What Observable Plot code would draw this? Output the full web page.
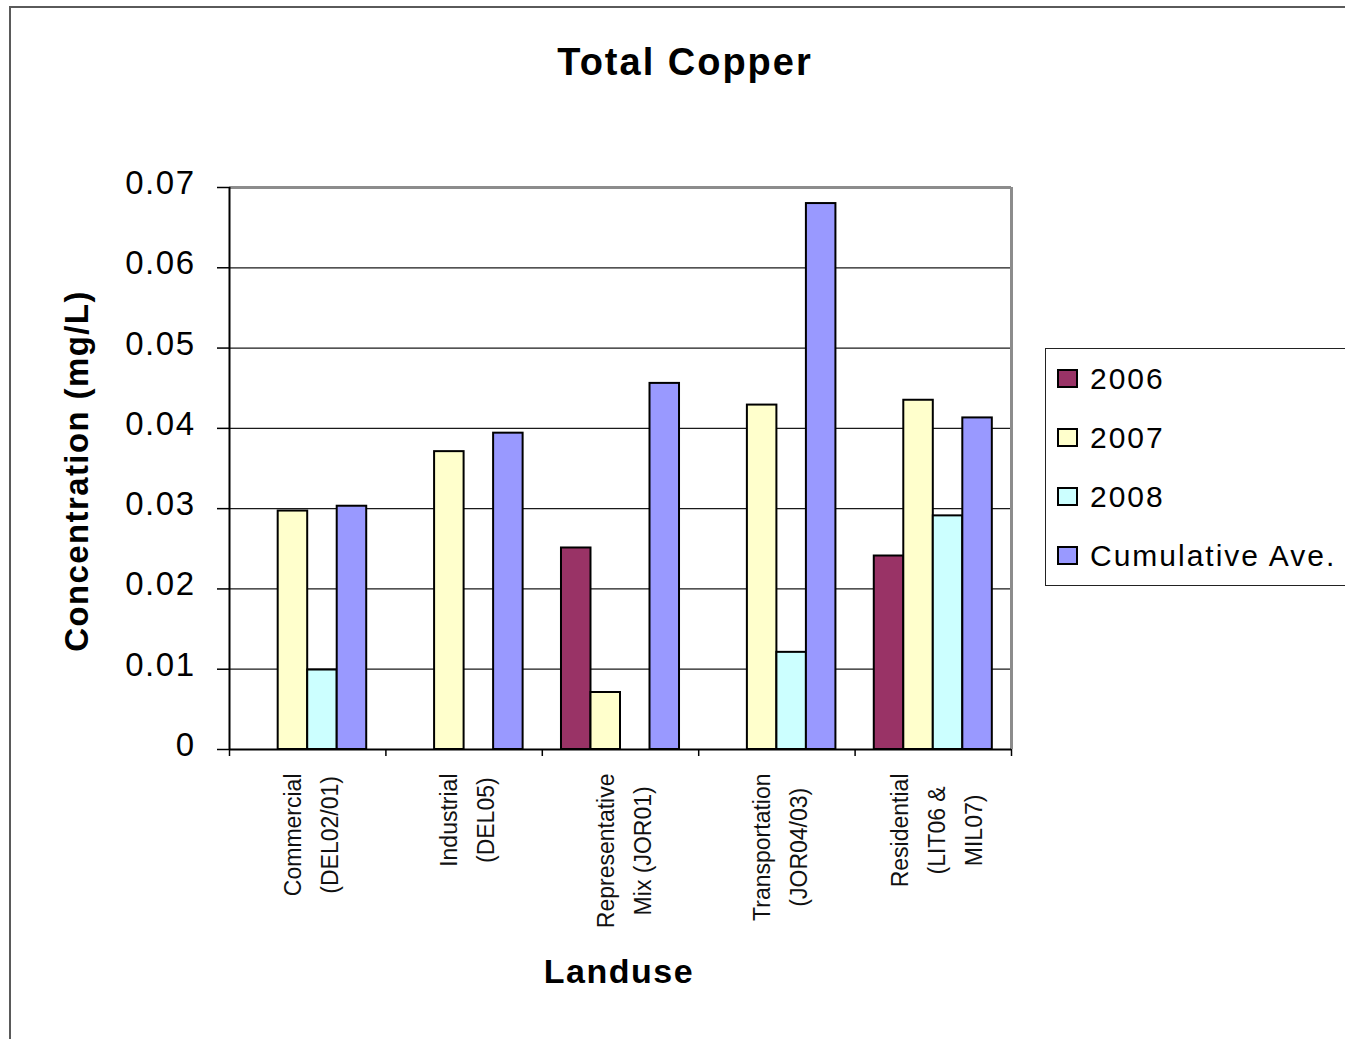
<!DOCTYPE html>
<html>
<head>
<meta charset="utf-8">
<script src="https://cdn.jsdelivr.net/npm/d3@7"></script>
<script src="https://cdn.jsdelivr.net/npm/@observablehq/plot@0.6"></script>
<style>
  html, body { margin: 0; padding: 0; background: #fff; overflow: hidden; width: 1345px; height: 1039px; }
  body { position: relative; font-family: "Liberation Sans", Arial, sans-serif; color: #000; }
  #frame { position: absolute; left: 9px; top: 6px; width: 1400px; height: 1100px; border: 2px solid #5a5a5a; box-sizing: border-box; }
  #chart { position: absolute; left: 0; top: 0; }
  #chart svg { overflow: visible; }
  g[aria-label="y-axis tick label"] text { letter-spacing: 1.5px; }
  .title { position: absolute; left: 685px; top: 43px; transform: translateX(-50%); font-weight: bold; font-size: 38px; line-height: 38px; letter-spacing: 2px; white-space: nowrap; }
  .xlabel { position: absolute; left: 619px; top: 954px; transform: translateX(-50%); font-weight: bold; font-size: 34px; line-height: 34px; letter-spacing: 1.5px; white-space: nowrap; }
  .ylabel { position: absolute; left: 76px; top: 471px; transform: translate(-50%, -50%) rotate(-90deg); font-weight: bold; font-size: 33px; line-height: 33px; letter-spacing: 1.4px; white-space: nowrap; }
  .legend { position: absolute; left: 1045px; top: 348px; width: 330px; height: 238px; border: 1.5px solid #222; box-sizing: border-box; background: #fff; }
  .legend .item { height: 59px; display: flex; align-items: center; padding-left: 11px; }
  .legend .swatch { width: 17px; height: 15px; border: 2px solid #000; margin-right: 12px; }
  .legend .name { font-size: 30px; letter-spacing: 2px; white-space: nowrap; }
</style>
</head>
<body>
<div id="frame"></div>
<div id="chart"></div>
<div class="title">Total Copper</div>
<div class="ylabel">Concentration (mg/L)</div>
<div class="xlabel">Landuse</div>
<div class="legend" id="legend"></div>
<script>
// Land-use sampling sites (line breaks follow the axis labels)
const categories = [
  "Commercial\n(DEL02/01)",
  "Industrial\n(DEL05)",
  "Representative\nMix (JOR01)",
  "Transportation\n(JOR04/03)",
  "Residential\n(LIT06 &\nMIL07)"
];
const series = ["2006", "2007", "2008", "Cumulative Ave."];
const seriesColors = ["#993366", "#FFFFCC", "#CCFFFF", "#9999FF"];

// Total copper concentration, mg/L (null = no sample that year)
const values2006 = [null, null, 0.0251, null, 0.0241];
const values2007 = [0.0297, 0.0371, 0.0071, 0.0429, 0.0435];
const values2008 = [0.0099, null, null, 0.0121, 0.0291];
const valuesCumulative = [0.0303, 0.0394, 0.0456, 0.0680, 0.0413];

const yTicks = [0, 0.01, 0.02, 0.03, 0.04, 0.05, 0.06, 0.07];

const seriesValues = [values2006, values2007, values2008, valuesCumulative];
const rows = [];
categories.forEach((category, i) => {
  series.forEach((s, j) => {
    const value = seriesValues[j][i];
    if (value != null) rows.push({i, category, series: s, value});
  });
});

// Position of each series inside a land-use group (group = one unit on x)
const inner = d3.scaleBand().domain(series).range([0, 1]).paddingInner(0).paddingOuter(0.65);

// Rotated category labels: centre every line under the longest one
const labelFont = 23;
const ctx = document.createElement("canvas").getContext("2d");
ctx.font = `${labelFont}px "Liberation Sans", Arial, sans-serif`;
const labelMarks = categories.map((category, i) => {
  const longest = d3.max(category.split("\n"), (line) => ctx.measureText(line).width);
  return Plot.text([category], {
    x: () => i + 0.5,
    y: () => 0,
    text: (d) => d,
    rotate: -90,
    textAnchor: "middle",
    lineHeight: 1.6,
    fontSize: labelFont,
    fill: "#111",
    dy: 24 + longest / 2
  });
});

const yMax = yTicks[yTicks.length - 1];

const chart = Plot.plot({
  width: 1040,
  height: 1000,
  marginLeft: 229,
  marginRight: 29,
  marginTop: 187,
  marginBottom: 251,
  style: {fontFamily: '"Liberation Sans", Arial, sans-serif', background: "transparent", color: "#000"},
  x: {domain: [0, categories.length]},
  y: {domain: [0, yMax]},
  color: {domain: series, range: seriesColors},
  marks: [
    Plot.ruleY(yTicks.slice(1, -1), {stroke: "#1a1a1a", strokeWidth: 1.3}),
    Plot.ruleY([yMax], {stroke: "#8c8c8c", strokeWidth: 3}),
    Plot.ruleX([categories.length], {y1: 0, y2: yMax, stroke: "#8c8c8c", strokeWidth: 3}),
    Plot.rect(rows, {
      x1: (d) => d.i + inner(d.series),
      x2: (d) => d.i + inner(d.series) + inner.bandwidth(),
      y1: 0,
      y2: "value",
      fill: "series",
      stroke: "#000",
      strokeWidth: 2
    }),
    Plot.ruleY([0], {stroke: "#000", strokeWidth: 2}),
    Plot.ruleX([0], {y1: 0, y2: yMax, stroke: "#000", strokeWidth: 2}),
    Plot.axisY({ticks: yTicks, tickSize: 12, tickPadding: 22, tickFormat: (d) => String(d), fontSize: 33, stroke: "#000", strokeWidth: 1.5, label: null, text: null}),
    Plot.axisY({ticks: yTicks, tickSize: 0, tickPadding: 34, tickFormat: (d) => String(d), fontSize: 33, dy: -4, label: null}),
    Plot.axisX({ticks: d3.range(categories.length + 1), tickSize: 7, tickFormat: () => "", stroke: "#000", strokeWidth: 1.5, label: null}),
    ...labelMarks
  ]
});
document.getElementById("chart").appendChild(chart);

// Legend built from the chart's own color scale
const color = chart.scale("color");
const legend = document.getElementById("legend");
color.domain.forEach((s, k) => {
  const item = document.createElement("div");
  item.className = "item";
  const sw = document.createElement("span");
  sw.className = "swatch";
  sw.style.background = color.range[k];
  const name = document.createElement("span");
  name.className = "name";
  name.textContent = s;
  item.append(sw, name);
  legend.appendChild(item);
});
</script>
</body>
</html>
